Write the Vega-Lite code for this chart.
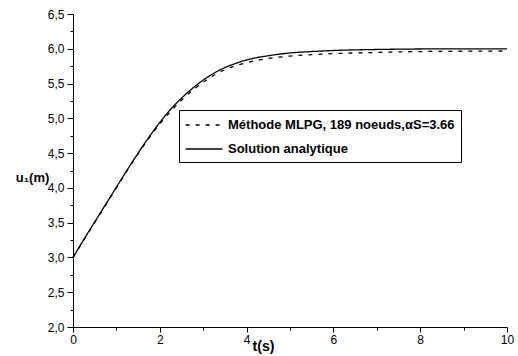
{
  "$schema": "https://vega.github.io/schema/vega-lite/v6.json",
  "width": 434,
  "height": 313,
  "autosize": "none",
  "padding": {"left": 73, "top": 14, "right": 11, "bottom": 29},
  "background": "white",
  "config": {"view": {"stroke": null}, "font": "Liberation Sans"},
  "data": {
    "values": [
      {"t": 0, "u": 3.0, "serie": "Solution analytique"},
      {"t": 0.25, "u": 3.26, "serie": "Solution analytique"},
      {"t": 0.5, "u": 3.51, "serie": "Solution analytique"},
      {"t": 0.75, "u": 3.76, "serie": "Solution analytique"},
      {"t": 1.0, "u": 4.01, "serie": "Solution analytique"},
      {"t": 1.25, "u": 4.26, "serie": "Solution analytique"},
      {"t": 1.5, "u": 4.5, "serie": "Solution analytique"},
      {"t": 1.75, "u": 4.73, "serie": "Solution analytique"},
      {"t": 2.0, "u": 4.94, "serie": "Solution analytique"},
      {"t": 2.25, "u": 5.13, "serie": "Solution analytique"},
      {"t": 2.5, "u": 5.29, "serie": "Solution analytique"},
      {"t": 2.75, "u": 5.43, "serie": "Solution analytique"},
      {"t": 3.0, "u": 5.55, "serie": "Solution analytique"},
      {"t": 3.25, "u": 5.65, "serie": "Solution analytique"},
      {"t": 3.5, "u": 5.73, "serie": "Solution analytique"},
      {"t": 3.75, "u": 5.79, "serie": "Solution analytique"},
      {"t": 4.0, "u": 5.84, "serie": "Solution analytique"},
      {"t": 4.5, "u": 5.9, "serie": "Solution analytique"},
      {"t": 5.0, "u": 5.94, "serie": "Solution analytique"},
      {"t": 5.5, "u": 5.96, "serie": "Solution analytique"},
      {"t": 6.0, "u": 5.975, "serie": "Solution analytique"},
      {"t": 7.0, "u": 5.99, "serie": "Solution analytique"},
      {"t": 8.0, "u": 5.997, "serie": "Solution analytique"},
      {"t": 9.0, "u": 6.0, "serie": "Solution analytique"},
      {"t": 10.0, "u": 6.0, "serie": "Solution analytique"},
      {"t": 0, "u": 3.0, "serie": "Méthode MLPG, 189 noeuds,αS=3.66"},
      {"t": 0.5, "u": 3.5, "serie": "Méthode MLPG, 189 noeuds,αS=3.66"},
      {"t": 1.0, "u": 4.0, "serie": "Méthode MLPG, 189 noeuds,αS=3.66"},
      {"t": 1.5, "u": 4.49, "serie": "Méthode MLPG, 189 noeuds,αS=3.66"},
      {"t": 2.0, "u": 4.92, "serie": "Méthode MLPG, 189 noeuds,αS=3.66"},
      {"t": 2.5, "u": 5.26, "serie": "Méthode MLPG, 189 noeuds,αS=3.66"},
      {"t": 3.0, "u": 5.52, "serie": "Méthode MLPG, 189 noeuds,αS=3.66"},
      {"t": 3.5, "u": 5.7, "serie": "Méthode MLPG, 189 noeuds,αS=3.66"},
      {"t": 4.0, "u": 5.8, "serie": "Méthode MLPG, 189 noeuds,αS=3.66"},
      {"t": 4.5, "u": 5.86, "serie": "Méthode MLPG, 189 noeuds,αS=3.66"},
      {"t": 5.0, "u": 5.895, "serie": "Méthode MLPG, 189 noeuds,αS=3.66"},
      {"t": 5.5, "u": 5.915, "serie": "Méthode MLPG, 189 noeuds,αS=3.66"},
      {"t": 6.0, "u": 5.93, "serie": "Méthode MLPG, 189 noeuds,αS=3.66"},
      {"t": 7.0, "u": 5.948, "serie": "Méthode MLPG, 189 noeuds,αS=3.66"},
      {"t": 8.0, "u": 5.96, "serie": "Méthode MLPG, 189 noeuds,αS=3.66"},
      {"t": 9.0, "u": 5.965, "serie": "Méthode MLPG, 189 noeuds,αS=3.66"},
      {"t": 10.0, "u": 5.968, "serie": "Méthode MLPG, 189 noeuds,αS=3.66"}
    ]
  },
  "mark": {"type": "line", "color": "black", "strokeWidth": 1.3, "interpolate": "monotone"},
  "encoding": {
    "x": {
      "field": "t",
      "type": "quantitative",
      "scale": {"domain": [0, 10], "nice": false},
      "axis": {
        "values": [0, 1, 2, 3, 4, 5, 6, 7, 8, 9, 10],
        "labelExpr": "datum.value % 2 === 0 ? datum.label : ''",
        "tickSize": {"condition": {"test": "datum.value % 2 === 0", "value": 5}, "value": 3},
        "grid": false,
        "domainColor": "black",
        "tickColor": "black",
        "labelColor": "black",
        "labelFontSize": 12,
        "labelPadding": 2,
        "labelFlush": false,
        "title": "t(s)",
        "titleFontSize": 14,
        "titleFontWeight": "bold",
        "titleColor": "black",
        "titleX": 190,
        "titleY": 23,
        "titleAlign": "center",
        "titleBaseline": "alphabetic"
      }
    },
    "y": {
      "field": "u",
      "type": "quantitative",
      "scale": {"domain": [2, 6.5], "nice": false, "zero": false},
      "axis": {
        "values": [2, 2.25, 2.5, 2.75, 3, 3.25, 3.5, 3.75, 4, 4.25, 4.5, 4.75, 5, 5.25, 5.5, 5.75, 6, 6.25, 6.5],
        "labelExpr": "datum.value % 0.5 === 0 ? replace(format(datum.value, '.1f'), '.', ',') : ''",
        "tickSize": {"condition": {"test": "datum.value % 0.5 === 0", "value": 6}, "value": 3},
        "grid": false,
        "domainColor": "black",
        "tickColor": "black",
        "labelColor": "black",
        "labelFontSize": 12,
        "labelPadding": 3,
        "labelFlush": false,
        "title": "u₁(m)",
        "titleAngle": 0,
        "titleFontSize": 13,
        "titleFontWeight": "bold",
        "titleColor": "black",
        "titleX": -41,
        "titleY": 163,
        "titleAlign": "center",
        "titleBaseline": "middle"
      }
    },
    "strokeDash": {
      "field": "serie",
      "type": "nominal",
      "scale": {
        "domain": ["Méthode MLPG, 189 noeuds,αS=3.66", "Solution analytique"],
        "range": [[4, 6], [1, 0]]
      },
      "legend": {
        "orient": "none",
        "legendX": 106,
        "legendY": 96,
        "title": null,
        "strokeColor": "black",
        "fillColor": "white",
        "padding": 6,
        "cornerRadius": 0,
        "labelFontSize": 13,
        "labelFontWeight": "bold",
        "labelColor": "black",
        "labelLimit": 400,
        "labelOffset": 15,
        "symbolType": "M-2.3,0H2.3",
        "symbolSize": 256,
        "symbolOffset": 10,
        "symbolStrokeWidth": 1.3,
        "symbolStrokeColor": "black",
        "rowPadding": 8
      }
    }
  }
}
